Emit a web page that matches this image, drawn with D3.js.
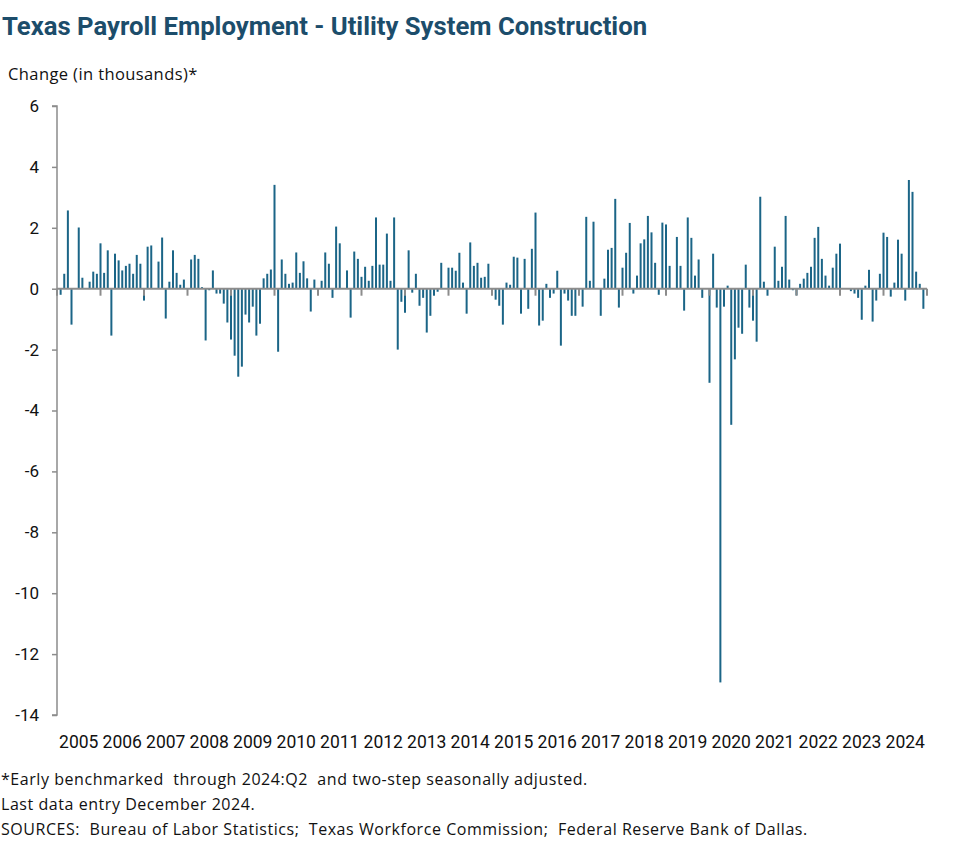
<!DOCTYPE html>
<html>
<head>
<meta charset="utf-8">
<script src="https://cdn.jsdelivr.net/npm/d3@7"></script>
<style>
  body { margin: 0; background: #fff; }
  svg { display: block; }
</style>
</head>
<body>
<svg id="chart" width="977" height="864"></svg>
<script>
// ---- data ----
const titleText = "Texas Payroll Employment - Utility System Construction";
const yAxisTitle = "Change (in thousands)*";
const footnotes = [
  "*Early benchmarked  through 2024:Q2  and two-step seasonally adjusted.",
  "Last data entry December 2024.",
  "SOURCES:  Bureau of Labor Statistics;  Texas Workforce Commission;  Federal Reserve Bank of Dallas."
];
const firstMonth = "2005-02";   // first data month (Feb 2005)
const lastMonth = "2024-12";
const yearLabels = ["2005","2006","2007","2008","2009","2010","2011","2012","2013","2014",
  "2015","2016","2017","2018","2019","2020","2021","2022","2023","2024"];
const yTicks = [6, 4, 2, 0, -2, -4, -6, -8, -10, -12, -14];
// monthly change, Feb 2005 .. Dec 2024 (thousands)
const values2005 = [-0.2, 0.49, 2.57, -1.18, 0, 2.01, 0.36, 0, 0.23, 0.56, 0.49];
const values2006 = [1.49, 0.52, 1.26, -1.54, 1.15, 0.93, 0.6, 0.75, 0.82, 0.49, 1.11, 0.82];
const values2007 = [-0.39, 1.38, 1.42, 0, 0.89, 1.68, -0.98, 0.23, 1.26, 0.52, 0.13, 0.3];
const values2008 = [0, 0.96, 1.11, 0.98, 0.05, -1.7, -0.05, 0.6, -0.16, -0.16, -0.49, -1.11];
const values2009 = [-1.67, -2.2, -2.89, -2.56, -0.85, -1.11, -0.59, -1.54, -1.15, 0.34, 0.49, 0.63];
const values2010 = [3.41, -2.07, 0.96, 0.49, 0.16, 0.2, 1.19, 0.52, 0.9, 0.34, -0.75, 0.3];
const values2011 = [0, 0.26, 1.19, 0.82, -0.3, 2.04, 1.49, 0, 0.6, -0.95, 1.22, 0.98];
const values2012 = [0.39, 0.72, 0.26, 0.75, 2.34, 0.79, 0.79, 1.81, 0.26, 2.34, -2.0, -0.43];
const values2013 = [-0.79, 1.26, -0.13, 0.49, -0.56, -0.3, -1.44, -0.89, -0.23, -0.1, 0.85, 0];
const values2014 = [0.69, 0.69, 0.59, 1.18, 0.2, -0.82, 1.52, 0.75, 0.85, 0.36, 0.39, 0.82];
const values2015 = [0, -0.36, -0.56, -1.18, 0.2, 0.13, 1.05, 1.02, -0.82, 0.98, -0.66, 1.31];
const values2016 = [2.5, -1.21, -1.05, 0.16, -0.3, -0.16, 0.59, -1.87, -0.16, -0.39, -0.89, -0.89];
const values2017 = [0, -0.59, 2.36, 0.26, 2.2, 0, -0.89, 0.33, 1.28, 1.34, 2.95, -0.62];
const values2018 = [0.69, 1.18, 2.16, -0.16, 0.43, 1.49, 1.62, 2.39, 1.85, 0.85, -0.2, 2.17];
const values2019 = [2.11, 0.75, 0, 1.7, 0.75, -0.72, 2.34, 1.67, 0.43, 0.96, -0.3, 0];
const values2020 = [-3.09, 1.15, -0.62, -12.93, -0.59, 0.1, -4.47, -2.32, -1.28, -1.48, 0.79, -0.62];
const values2021 = [-1.05, -1.74, 3.02, 0.23, -0.23, 0, 1.38, 0.26, 0.72, 2.39, 0.3, -0.05];
const values2022 = [-0.22, 0.16, 0.33, 0.52, 0.72, 1.67, 2.03, 0.98, 0.43, 0.1, 0.69, 1.15];
const values2023 = [1.48, 0, 0, -0.08, -0.16, -0.3, -1.02, 0.1, 0.62, -1.08, -0.39, 0.49];
const values2024 = [1.84, 1.7, -0.26, 0.2, 1.61, 1.15, -0.39, 3.57, 3.18, 0.56, 0.16, -0.66];

const values = [].concat(values2005, values2006, values2007, values2008, values2009,
  values2010, values2011, values2012, values2013, values2014, values2015, values2016,
  values2017, values2018, values2019, values2020, values2021, values2022, values2023, values2024);

// month offset (months since Jan 2005) for each value
const startIdx = (+firstMonth.slice(0,4) - 2005) * 12 + (+firstMonth.slice(5,7) - 1);
const data = values.map((v, i) => ({ m: startIdx + i, v: v }));

// ---- drawing ----
const svg = d3.select("#chart");
const plotLeft = 57, plotRight = 927, plotTop = 106, plotBottom = 715;
const barColor = "#1b6587";
const axisColor = "#8c8c8c";
const font = "Roboto, 'Liberation Sans', sans-serif";
const bodyFont = "'Open Sans', Roboto, sans-serif";

const x = d3.scaleLinear().domain([0, yearLabels.length * 12]).range([plotLeft, plotRight]);
const y = d3.scaleLinear().domain([-14, 6]).range([plotBottom, plotTop]);

// title
svg.append("text")
  .attr("x", 2).attr("y", 35)
  .attr("font-family", font).attr("font-weight", 700).attr("font-size", 25.7)
  .attr("fill", "#1c4d6b")
  .text(titleText);

svg.append("text")
  .attr("x", 8).attr("y", 80)
  .attr("font-family", bodyFont).attr("font-size", 16.5)
  .attr("letter-spacing", 0.4)
  .attr("fill", "#111")
  .text(yAxisTitle);

// bars
svg.append("g").selectAll("rect").data(data).join("rect")
  .attr("x", d => x(d.m) - 1)
  .attr("width", 2)
  .attr("y", d => d.v >= 0 ? y(d.v) : y(0))
  .attr("height", d => Math.abs(y(d.v) - y(0)))
  .attr("fill", barColor);

// y axis
const yAxis = d3.axisLeft(y).tickValues(yTicks).tickSize(5).tickPadding(13)
  .tickFormat(d => d < 0 ? "-" + Math.abs(d) : String(d));
const gy = svg.append("g").attr("transform", `translate(${plotLeft},0)`).call(yAxis);
gy.select(".domain").attr("stroke", axisColor).attr("stroke-width", 1.5)
  .attr("d", `M-5,${plotTop}H0V${plotBottom}H-5`);
gy.selectAll(".tick line").attr("stroke", axisColor).attr("stroke-width", 1.5);
gy.selectAll(".tick text").attr("font-family", font).attr("font-size", 17).attr("fill", "#111");

// zero line with year ticks
const zeroY = y(0);
const yearTicks = d3.range(0, yearLabels.length * 12 + 1, 12);
svg.append("g").selectAll("line").data(yearTicks).join("line")
  .attr("x1", d => x(d)).attr("x2", d => x(d))
  .attr("y1", zeroY).attr("y2", zeroY + 7)
  .attr("stroke", axisColor).attr("stroke-width", 2);
svg.append("line")
  .attr("x1", plotLeft).attr("x2", plotRight)
  .attr("y1", zeroY).attr("y2", zeroY)
  .attr("stroke", axisColor).attr("stroke-width", 2);

// year labels
svg.append("g").selectAll("text").data(yearLabels).join("text")
  .attr("x", (d, i) => x(i * 12 + 6))
  .attr("y", 748)
  .attr("text-anchor", "middle")
  .attr("font-family", font).attr("font-size", 17.5)
  .attr("fill", "#111")
  .text(d => d);

// footnotes
svg.append("g").selectAll("text").data(footnotes).join("text")
  .attr("x", 1)
  .attr("y", (d, i) => 785 + i * 25)
  .attr("font-family", bodyFont).attr("font-size", 16)
  .attr("letter-spacing", 0.55)
  .attr("fill", "#111")
  .attr("xml:space", "preserve")
  .style("white-space", "pre")
  .text(d => d);
</script>
</body>
</html>
